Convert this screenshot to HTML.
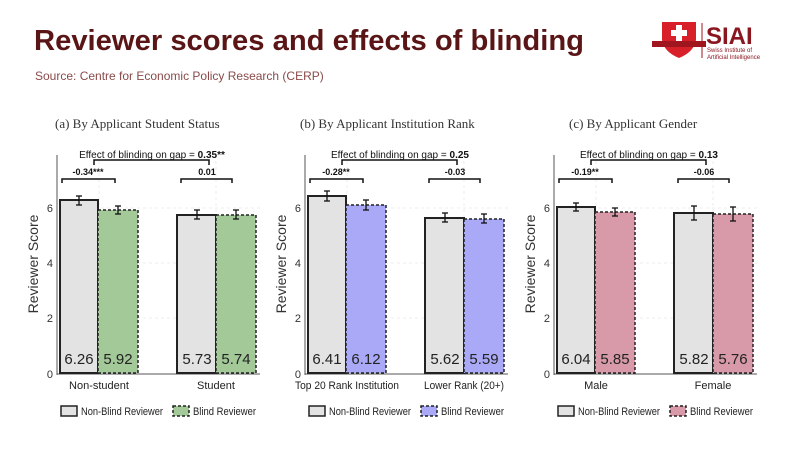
<!DOCTYPE html>
<html><head><meta charset="utf-8"><style>
body{margin:0;width:800px;height:450px;background:#fff;overflow:hidden;font-family:"Liberation Sans",sans-serif}
</style></head><body>
<svg width="800" height="450" xmlns="http://www.w3.org/2000/svg" font-family="Liberation Sans, sans-serif">
<text x="34" y="50" font-size="29" font-weight="bold" fill="#5a1616" textLength="550" lengthAdjust="spacingAndGlyphs">Reviewer scores and effects of blinding</text>
<text x="35" y="80" font-size="12" fill="#8a4a4a">Source: Centre for Economic Policy Research (CERP)</text>
<path d="M662,22 h34 v18 q-2,12 -17,18 q-15,-6 -17,-18 z" fill="#d8202a"/>
<rect x="676" y="25" width="6" height="16" fill="#fff"/><rect x="671" y="30" width="16" height="6" fill="#fff"/>
<rect x="652" y="41" width="54" height="6" fill="#a0161e"/>
<line x1="702" y1="23" x2="702" y2="58" stroke="#a0161e" stroke-width="1"/>
<text x="706" y="44" font-size="24" font-weight="bold" fill="#8a1620">SIAI</text>
<text x="707" y="52" font-size="6" fill="#8a1620">Swiss Institute of</text>
<text x="707" y="59" font-size="6" fill="#8a1620">Artificial Intelligence</text>

<g id="pa">
<text x="55" y="128" font-size="13" font-family="Liberation Serif, serif" fill="#333">(a) By Applicant Student Status</text>
<g stroke="#ececec" stroke-dasharray="3,3"><line x1="59" y1="208" x2="260" y2="208"/><line x1="59" y1="263" x2="260" y2="263"/><line x1="59" y1="318" x2="260" y2="318"/><line x1="99" y1="155" x2="99" y2="373"/><line x1="216" y1="155" x2="216" y2="373"/></g>
<line x1="57" y1="155" x2="57" y2="375" stroke="#555"/>
<line x1="57" y1="374" x2="260" y2="374" stroke="#555"/>
<g font-size="11" fill="#333" text-anchor="end"><text x="53" y="378">0</text><text x="53" y="322">2</text><text x="53" y="267">4</text><text x="53" y="212">6</text></g>
<text transform="translate(38,264) rotate(-90)" font-size="14" text-anchor="middle" fill="#333">Reviewer Score</text>
<rect x="60" y="200" width="38" height="173" fill="#e3e3e3" stroke="#222" stroke-width="2"/>
<rect x="98" y="210" width="40" height="163" fill="#a3c999" stroke="#222" stroke-width="1.5" stroke-dasharray="3,2"/>
<rect x="177" y="215" width="39" height="158" fill="#e3e3e3" stroke="#222" stroke-width="2"/>
<rect x="216" y="215" width="40" height="158" fill="#a3c999" stroke="#222" stroke-width="1.5" stroke-dasharray="3,2"/>
<g stroke="#111" stroke-width="1.3"><line x1="79" y1="196" x2="79" y2="205"/><line x1="76" y1="196" x2="82" y2="196"/><line x1="76" y1="205" x2="82" y2="205"/>
<line x1="118" y1="206" x2="118" y2="214"/><line x1="115" y1="206" x2="121" y2="206"/><line x1="115" y1="214" x2="121" y2="214"/>
<line x1="197" y1="210" x2="197" y2="219"/><line x1="194" y1="210" x2="200" y2="210"/><line x1="194" y1="219" x2="200" y2="219"/>
<line x1="236" y1="210" x2="236" y2="219"/><line x1="233" y1="210" x2="239" y2="210"/><line x1="233" y1="219" x2="239" y2="219"/></g>
<g font-size="15" fill="#222" text-anchor="middle"><text x="79" y="364">6.26</text><text x="118" y="364">5.92</text><text x="197" y="364">5.73</text><text x="236" y="364">5.74</text></g>
<g stroke="#111" stroke-width="1.5" fill="none"><path d="M94,165 v-5 h115 v5"/><path d="M62,183 v-4 h53 v4"/><path d="M181,183 v-4 h51 v4"/></g>
<text x="152" y="158" font-size="10" text-anchor="middle" fill="#111">Effect of blinding on gap = <tspan font-weight="bold">0.35**</tspan></text>
<text x="88" y="175" font-size="9" font-weight="bold" text-anchor="middle" fill="#111">-0.34***</text>
<text x="207" y="175" font-size="9" font-weight="bold" text-anchor="middle" fill="#111">0.01</text>
<text x="99" y="389" font-size="11" text-anchor="middle" fill="#222">Non-student</text>
<text x="216" y="389" font-size="11" text-anchor="middle" fill="#222">Student</text>
<rect x="61" y="406" width="16" height="10" fill="#e3e3e3" stroke="#222" stroke-width="1.5"/>
<text x="81" y="415" font-size="11" fill="#222" textLength="82" lengthAdjust="spacingAndGlyphs">Non-Blind Reviewer</text>
<rect x="173" y="406" width="16" height="10" fill="#a3c999" stroke="#222" stroke-width="1.5" stroke-dasharray="3,2"/>
<text x="193" y="415" font-size="11" fill="#222" textLength="63" lengthAdjust="spacingAndGlyphs">Blind Reviewer</text>
</g>

<g transform="translate(248,0)">
<text x="52" y="128" font-size="13" font-family="Liberation Serif, serif" fill="#333">(b) By Applicant Institution Rank</text>
<g stroke="#ececec" stroke-dasharray="3,3"><line x1="59" y1="208" x2="260" y2="208"/><line x1="59" y1="263" x2="260" y2="263"/><line x1="59" y1="318" x2="260" y2="318"/><line x1="99" y1="155" x2="99" y2="373"/><line x1="216" y1="155" x2="216" y2="373"/></g>
<line x1="57" y1="155" x2="57" y2="375" stroke="#555"/>
<line x1="57" y1="374" x2="260" y2="374" stroke="#555"/>
<g font-size="11" fill="#333" text-anchor="end"><text x="53" y="378">0</text><text x="53" y="322">2</text><text x="53" y="267">4</text><text x="53" y="212">6</text></g>
<text transform="translate(38,264) rotate(-90)" font-size="14" text-anchor="middle" fill="#333">Reviewer Score</text>
<rect x="60" y="196" width="38" height="177" fill="#e3e3e3" stroke="#222" stroke-width="2"/>
<rect x="98" y="205" width="40" height="168" fill="#a9a9f7" stroke="#222" stroke-width="1.5" stroke-dasharray="3,2"/>
<rect x="177" y="218" width="39" height="155" fill="#e3e3e3" stroke="#222" stroke-width="2"/>
<rect x="216" y="219" width="40" height="154" fill="#a9a9f7" stroke="#222" stroke-width="1.5" stroke-dasharray="3,2"/>
<g stroke="#111" stroke-width="1.3"><line x1="79" y1="191" x2="79" y2="201"/><line x1="76" y1="191" x2="82" y2="191"/><line x1="76" y1="201" x2="82" y2="201"/>
<line x1="118" y1="200" x2="118" y2="210"/><line x1="115" y1="200" x2="121" y2="200"/><line x1="115" y1="210" x2="121" y2="210"/>
<line x1="197" y1="213" x2="197" y2="222"/><line x1="194" y1="213" x2="200" y2="213"/><line x1="194" y1="222" x2="200" y2="222"/>
<line x1="236" y1="214" x2="236" y2="223"/><line x1="233" y1="214" x2="239" y2="214"/><line x1="233" y1="223" x2="239" y2="223"/></g>
<g font-size="15" fill="#222" text-anchor="middle"><text x="79" y="364">6.41</text><text x="118" y="364">6.12</text><text x="197" y="364">5.62</text><text x="236" y="364">5.59</text></g>
<g stroke="#111" stroke-width="1.5" fill="none"><path d="M94,165 v-5 h115 v5"/><path d="M62,183 v-4 h53 v4"/><path d="M181,183 v-4 h51 v4"/></g>
<text x="152" y="158" font-size="10" text-anchor="middle" fill="#111">Effect of blinding on gap = <tspan font-weight="bold">0.25</tspan></text>
<text x="88" y="175" font-size="9" font-weight="bold" text-anchor="middle" fill="#111">-0.28**</text>
<text x="207" y="175" font-size="9" font-weight="bold" text-anchor="middle" fill="#111">-0.03</text>
<text x="99" y="389" font-size="11" text-anchor="middle" fill="#222" textLength="104" lengthAdjust="spacingAndGlyphs">Top 20 Rank Institution</text>
<text x="216" y="389" font-size="11" text-anchor="middle" fill="#222" textLength="80" lengthAdjust="spacingAndGlyphs">Lower Rank (20+)</text>
<rect x="61" y="406" width="16" height="10" fill="#e3e3e3" stroke="#222" stroke-width="1.5"/>
<text x="81" y="415" font-size="11" fill="#222" textLength="82" lengthAdjust="spacingAndGlyphs">Non-Blind Reviewer</text>
<rect x="173" y="406" width="16" height="10" fill="#a9a9f7" stroke="#222" stroke-width="1.5" stroke-dasharray="3,2"/>
<text x="193" y="415" font-size="11" fill="#222" textLength="63" lengthAdjust="spacingAndGlyphs">Blind Reviewer</text>
</g>

<g transform="translate(497,0)">
<text x="72" y="128" font-size="13" font-family="Liberation Serif, serif" fill="#333">(c) By Applicant Gender</text>
<g stroke="#ececec" stroke-dasharray="3,3"><line x1="59" y1="208" x2="260" y2="208"/><line x1="59" y1="263" x2="260" y2="263"/><line x1="59" y1="318" x2="260" y2="318"/><line x1="99" y1="155" x2="99" y2="373"/><line x1="216" y1="155" x2="216" y2="373"/></g>
<line x1="57" y1="155" x2="57" y2="375" stroke="#555"/>
<line x1="57" y1="374" x2="260" y2="374" stroke="#555"/>
<g font-size="11" fill="#333" text-anchor="end"><text x="53" y="378">0</text><text x="53" y="322">2</text><text x="53" y="267">4</text><text x="53" y="212">6</text></g>
<text transform="translate(38,264) rotate(-90)" font-size="14" text-anchor="middle" fill="#333">Reviewer Score</text>
<rect x="60" y="207" width="38" height="166" fill="#e3e3e3" stroke="#222" stroke-width="2"/>
<rect x="98" y="212" width="40" height="161" fill="#d89aa8" stroke="#222" stroke-width="1.5" stroke-dasharray="3,2"/>
<rect x="177" y="213" width="39" height="160" fill="#e3e3e3" stroke="#222" stroke-width="2"/>
<rect x="216" y="214" width="40" height="159" fill="#d89aa8" stroke="#222" stroke-width="1.5" stroke-dasharray="3,2"/>
<g stroke="#111" stroke-width="1.3"><line x1="79" y1="203" x2="79" y2="211"/><line x1="76" y1="203" x2="82" y2="203"/><line x1="76" y1="211" x2="82" y2="211"/>
<line x1="118" y1="208" x2="118" y2="216"/><line x1="115" y1="208" x2="121" y2="208"/><line x1="115" y1="216" x2="121" y2="216"/>
<line x1="197" y1="206" x2="197" y2="220"/><line x1="194" y1="206" x2="200" y2="206"/><line x1="194" y1="220" x2="200" y2="220"/>
<line x1="236" y1="207" x2="236" y2="221"/><line x1="233" y1="207" x2="239" y2="207"/><line x1="233" y1="221" x2="239" y2="221"/></g>
<g font-size="15" fill="#222" text-anchor="middle"><text x="79" y="364">6.04</text><text x="118" y="364">5.85</text><text x="197" y="364">5.82</text><text x="236" y="364">5.76</text></g>
<g stroke="#111" stroke-width="1.5" fill="none"><path d="M94,165 v-5 h115 v5"/><path d="M62,183 v-4 h53 v4"/><path d="M181,183 v-4 h51 v4"/></g>
<text x="152" y="158" font-size="10" text-anchor="middle" fill="#111">Effect of blinding on gap = <tspan font-weight="bold">0.13</tspan></text>
<text x="88" y="175" font-size="9" font-weight="bold" text-anchor="middle" fill="#111">-0.19**</text>
<text x="207" y="175" font-size="9" font-weight="bold" text-anchor="middle" fill="#111">-0.06</text>
<text x="99" y="389" font-size="11" text-anchor="middle" fill="#222">Male</text>
<text x="216" y="389" font-size="11" text-anchor="middle" fill="#222">Female</text>
<rect x="61" y="406" width="16" height="10" fill="#e3e3e3" stroke="#222" stroke-width="1.5"/>
<text x="81" y="415" font-size="11" fill="#222" textLength="82" lengthAdjust="spacingAndGlyphs">Non-Blind Reviewer</text>
<rect x="173" y="406" width="16" height="10" fill="#d89aa8" stroke="#222" stroke-width="1.5" stroke-dasharray="3,2"/>
<text x="193" y="415" font-size="11" fill="#222" textLength="63" lengthAdjust="spacingAndGlyphs">Blind Reviewer</text>
</g>
</svg>
</body></html>
